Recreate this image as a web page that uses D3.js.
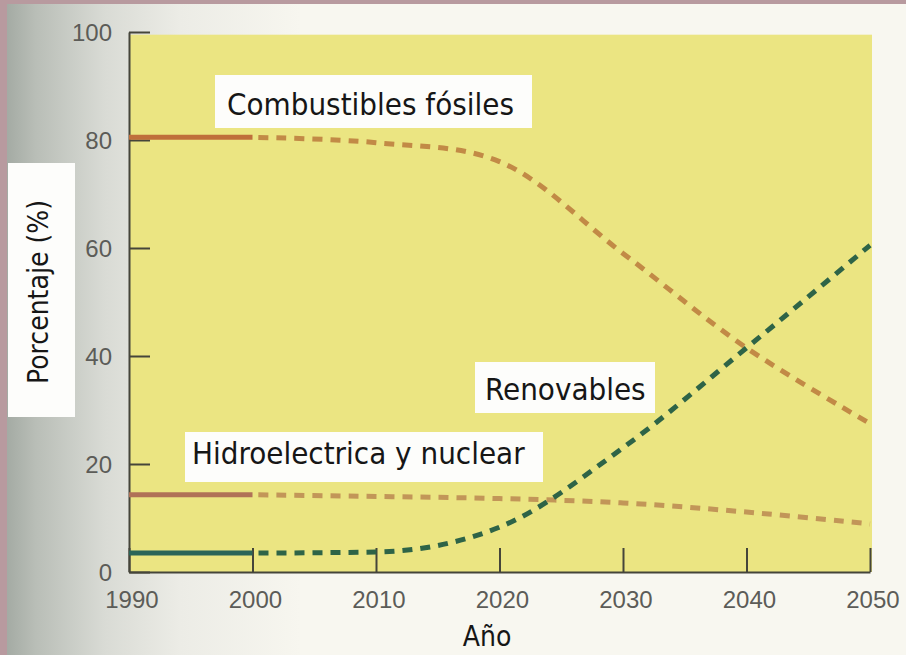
<!DOCTYPE html>
<html>
<head>
<meta charset="utf-8">
<script src="https://cdn.jsdelivr.net/npm/d3@7"></script>
<style>
  html, body { margin: 0; padding: 0; background: #f7f6ef; }
  svg { display: block; }
</style>
</head>
<body>
<svg id="chart" width="906" height="655"></svg>
<script>
// Energy mix projection, share of total (%) by year
const years = [1990, 2000, 2010, 2020, 2030, 2040, 2050];
const yTickValues = [0, 20, 40, 60, 80, 100];
const fossil = [80.5, 80.5, 79.5, 76, 59, 41.5, 27.5];
const hydroNuclear = [14.3, 14.3, 14, 13.6, 12.8, 11.1, 8.9];
const renewables = [3.5, 3.5, 3.7, 8.3, 23, 41.5, 60.5];
const seriesLabels = ["Combustibles fósiles", "Hidroelectrica y nuclear", "Renovables"];
const xTitle = "Año";
const yTitle = "Porcentaje (%)";
const historicalEnd = 2000; // solid up to here, dashed projection after

const svg = d3.select("#chart");
const W = 906, H = 655;

const x = d3.scaleLinear().domain([1990, 2050]).range([129, 870]);
const y = d3.scaleLinear().domain([0, 100]).range([572, 32]);

const labelFont = "'DejaVu Sans Condensed', 'DejaVu Sans', sans-serif";
const tickFont = "'Liberation Sans', Arial, sans-serif";

// ---- page background: paper with a grey shade on the left edge ----
const defs = svg.append("defs");
const grad = defs.append("linearGradient").attr("id", "pageShade")
  .attr("x1", 0).attr("x2", 1).attr("y1", 0).attr("y2", 0);
grad.append("stop").attr("offset", "0%").attr("stop-color", "#9fa69f");
grad.append("stop").attr("offset", "12%").attr("stop-color", "#b9beb7");
grad.append("stop").attr("offset", "35%").attr("stop-color", "#d9dbd5");
grad.append("stop").attr("offset", "60%").attr("stop-color", "#ecece6");
grad.append("stop").attr("offset", "100%").attr("stop-color", "#f7f6ef");

svg.append("rect").attr("width", W).attr("height", H).attr("fill", "#f8f7f0");
svg.append("rect").attr("x", 0).attr("y", 0).attr("width", 300).attr("height", H)
  .attr("fill", "url(#pageShade)");

// mauve frame on top and left
svg.append("rect").attr("x", 0).attr("y", 0).attr("width", W).attr("height", 4).attr("fill", "#b89a9f");
svg.append("rect").attr("x", 0).attr("y", 0).attr("width", 7).attr("height", H).attr("fill", "#b89a9f");

// ---- plot area ----
svg.append("rect")
  .attr("x", x(1990)).attr("y", y(99.5))
  .attr("width", x(2050) - x(1990) + 2).attr("height", y(0) - y(99.5))
  .attr("fill", "#ebe582");

// ---- axes ----
const yAxis = d3.axisLeft(y).tickValues(yTickValues).tickSizeInner(-21).tickSizeOuter(0).tickPadding(17);
const gy = svg.append("g").attr("transform", `translate(${x(1990)},0)`).call(yAxis);
gy.select(".domain").attr("stroke", "#45453a").attr("stroke-width", 2);
gy.selectAll(".tick line").attr("stroke", "#45453a").attr("stroke-width", 2);
gy.selectAll(".tick text").attr("font-family", tickFont).attr("font-size", 24)
  .attr("fill", "#5c5c58").attr("dy", "0.34em");

const xAxis = d3.axisBottom(x).tickValues(years).tickFormat(d3.format("d"))
  .tickSizeInner(-24).tickSizeOuter(0).tickPadding(19);
const gx = svg.append("g").attr("transform", `translate(0,${y(0)})`).call(xAxis);
gx.select(".domain").attr("stroke", "#45453a").attr("stroke-width", 2);
gx.selectAll(".tick line").attr("stroke", "#45453a").attr("stroke-width", 2);
gx.selectAll(".tick text").attr("font-family", tickFont).attr("font-size", 24)
  .attr("fill", "#5c5c58").attr("dx", "0.1em");

// ---- series ----
const smooth = d3.curveCatmullRom.alpha(0.5);
const series = [
  { values: hydroNuclear, solid: "#b07257", dashed: "#c29658", curve: smooth },
  { values: fossil, solid: "#bf6f3b", dashed: "#c28a46", curve: smooth },
  { values: renewables, solid: "#2b6558", dashed: "#2e6447", curve: d3.curveMonotoneX }
];

series.forEach(s => {
  const line = d3.line()
    .x(d => x(d.year))
    .y(d => y(d.value))
    .curve(s.curve);
  const pts = years.map((yr, i) => ({ year: yr, value: s.values[i] }));
  const past = pts.filter(p => p.year <= historicalEnd);
  const future = pts.filter(p => p.year >= historicalEnd);
  svg.append("path").datum(future)
    .attr("d", line)
    .attr("fill", "none")
    .attr("stroke", s.dashed)
    .attr("stroke-width", 5)
    .attr("stroke-dasharray", "10,8")
    .attr("stroke-dashoffset", -6);
  svg.append("path").datum(past)
    .attr("d", line)
    .attr("fill", "none")
    .attr("stroke", s.solid)
    .attr("stroke-width", 5);
});

// ---- boxed labels ----
function boxedLabel(text, box, tx, ty, size, rotate) {
  const g = svg.append("g");
  g.append("rect")
    .attr("x", box[0]).attr("y", box[1])
    .attr("width", box[2] - box[0]).attr("height", box[3] - box[1])
    .attr("fill", "#fdfdfb");
  const t = g.append("text")
    .attr("font-family", labelFont)
    .attr("font-size", size)
    .attr("fill", "#161616")
    .text(text);
  if (rotate) {
    t.attr("text-anchor", "middle")
      .attr("transform", `translate(${tx},${ty}) rotate(-90)`);
  } else {
    t.attr("x", tx).attr("y", ty);
  }
  return t;
}

boxedLabel(seriesLabels[0], [215, 75, 532, 128], 227, 115, 31);
boxedLabel(seriesLabels[1], [185, 432, 543, 482], 192, 464, 31);
boxedLabel(seriesLabels[2], [475, 362, 655, 413], 485, 400, 31);
boxedLabel(yTitle, [8, 163, 75, 417], 48, 292, 28, true);

// x axis title
svg.append("text")
  .attr("x", 487).attr("y", 646)
  .attr("text-anchor", "middle")
  .attr("font-family", labelFont)
  .attr("font-size", 28)
  .attr("fill", "#161616")
  .text(xTitle);
</script>
</body>
</html>
